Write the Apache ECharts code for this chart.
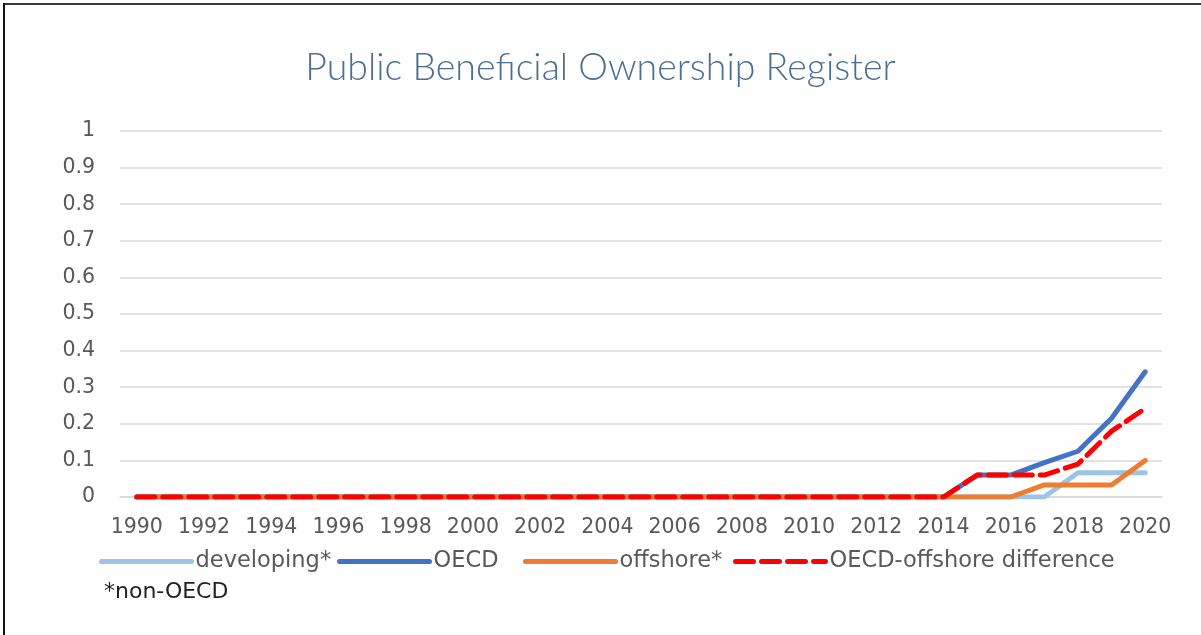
<!DOCTYPE html>
<html>
<head>
<meta charset="utf-8">
<script src="https://cdn.jsdelivr.net/npm/echarts@6/dist/echarts.min.js"></script>
<style>
html,body{margin:0;padding:0;background:#fff;}
#chart{width:1201px;height:635px;}
</style>
</head>
<body>
<div id="chart"></div>
<script>
const years = [];
for (let y = 1990; y <= 2020; y++) years.push(String(y));

// values 1990..2013 are all zero; listed explicitly
const developing = [0,0,0,0,0,0,0,0,0,0,0,0,0,0,0,0,0,0,0,0,0,0,0,0,0,0,0,0,0.066,0.066,0.066];
const oecd       = [0,0,0,0,0,0,0,0,0,0,0,0,0,0,0,0,0,0,0,0,0,0,0,0,0,0.06,0.06,0.094,0.125,0.215,0.342];
const offshore   = [0,0,0,0,0,0,0,0,0,0,0,0,0,0,0,0,0,0,0,0,0,0,0,0,0,0,0,0.033,0.033,0.033,0.10];
const difference = [0,0,0,0,0,0,0,0,0,0,0,0,0,0,0,0,0,0,0,0,0,0,0,0,0,0.06,0.06,0.06,0.09,0.18,0.242];

const seriesNames = ['developing*','OECD','offshore*','OECD-offshore difference'];
const colors = ['#9dc3e6','#4472c4','#ed7d31','#ff0000'];
const legendLefts = [94, 332, 518, 728];

const chart = echarts.init(document.getElementById('chart'));
const mk = (name, data, color, dashed) => ({
  name, type: 'line', data, symbol: 'none', showSymbol: false,
  lineStyle: { color, width: 5, type: dashed ? [18, 8] : 'solid', cap: 'round' },
  itemStyle: { color },
  animation: false
});

chart.setOption({
  animation: false,
  title: {
    text: 'Public Beneficial Ownership Register',
    left: 'center', top: 44,
    textStyle: { fontFamily: 'Lato', fontWeight: 300, fontSize: 37.5, color: '#4a6f8f' }
  },
  legend: legendLefts.map((l, i) => ({
    left: l, top: 545,
    data: [seriesNames[i]],
    itemWidth: 90, itemHeight: 14, itemGap: 0,
    itemStyle: { opacity: 0 },
    lineStyle: { width: 5 },
    textStyle: { fontFamily: 'DejaVu Sans', fontSize: 22.5, color: '#595959', padding: [0,0,0,-1] },
    selectedMode: false
  })),
  grid: { left: 120, right: 39, top: 131, bottom: 138, containLabel: false },
  xAxis: {
    type: 'category', data: years, boundaryGap: true,
    axisLine: { show: true, lineStyle: { color: '#d9d9d9', width: 1.5 } },
    axisTick: { show: false },
    axisLabel: { interval: 1, color: '#595959', fontFamily: 'DejaVu Sans', fontSize: 20.5, margin: 20 }
  },
  yAxis: {
    type: 'value', min: 0, max: 1, interval: 0.1,
    axisLine: { show: false }, axisTick: { show: false },
    splitLine: { lineStyle: { color: '#d9d9d9', width: 1.5 } },
    axisLabel: { color: '#595959', fontFamily: 'DejaVu Sans', fontSize: 20.5, margin: 25,
      formatter: v => String(Math.round(v * 10) / 10) }
  },
  graphic: [
    { type: 'line', shape: { x1: 3, y1: 4, x2: 1201, y2: 4 }, style: { stroke: '#3a3a3a', lineWidth: 2 } },
    { type: 'line', shape: { x1: 4, y1: 3, x2: 4, y2: 635 }, style: { stroke: '#111', lineWidth: 2 } },
    { type: 'text', left: 104, top: 581, style: { text: '*non-OECD', font: '22px "DejaVu Sans"', fill: '#222' } }
  ],
  series: [
    mk(seriesNames[0], developing, colors[0], false),
    mk(seriesNames[1], oecd, colors[1], false),
    mk(seriesNames[2], offshore, colors[2], false),
    mk(seriesNames[3], difference, colors[3], true)
  ]
});
</script>
</body>
</html>
